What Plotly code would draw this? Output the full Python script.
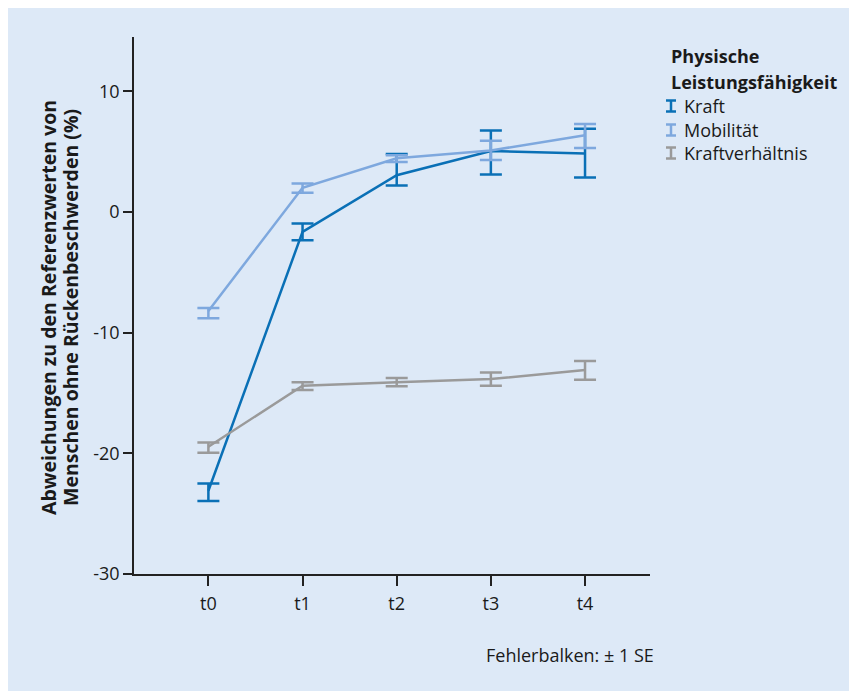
import plotly.graph_objects as go

# ---- data ----
zeitpunkte = ["t0", "t1", "t2", "t3", "t4"]

kraft_mittel = [-23.1, -1.65, 3.05, 5.05, 4.85]
kraft_oben = [-22.5, -0.95, 4.8, 6.75, 6.9]
kraft_unten = [-23.95, -2.35, 2.2, 3.1, 2.85]

mobil_mittel = [-8.2, 2.0, 4.45, 5.1, 6.35]
mobil_oben = [-7.95, 2.35, 4.7, 5.9, 7.3]
mobil_unten = [-8.8, 1.6, 4.15, 4.3, 5.3]

verh_mittel = [-19.45, -14.4, -14.1, -13.85, -13.1]
verh_oben = [-19.1, -14.1, -13.75, -13.3, -12.35]
verh_unten = [-19.95, -14.75, -14.45, -14.4, -13.9]

y_ticks = [-30, -20, -10, 0, 10]
y_ticktext = ["-30", "-20", "-10", "0", "10"]

serien = [
    ("Kraft", kraft_mittel, kraft_oben, kraft_unten, "#0a70b6"),
    ("Mobilität", mobil_mittel, mobil_oben, mobil_unten, "#7ea8de"),
    ("Kraftverhältnis", verh_mittel, verh_oben, verh_unten, "#9a9a9a"),
]

BG = "#dde9f7"
FONT = "Open Sans"
TXT = "#1a1a1a"
W, H = 857, 691
ML, MR, MT, MB = 126, 215, 29, 125

fig = go.Figure()
xs = list(range(len(zeitpunkte)))
for name, m, o, u, col in serien:
    fig.add_trace(go.Scatter(
        x=xs, y=m, mode="lines", name=name,
        line=dict(color=col, width=2.5),
        error_y=dict(type="data", symmetric=False,
                     array=[a - b for a, b in zip(o, m)],
                     arrayminus=[b - c for b, c in zip(m, u)],
                     color=col, thickness=2.5, width=11),
        showlegend=False, hoverinfo="skip",
    ))

pw = W - ML - MR
ph = H - MT - MB


def px(xp):
    return (xp - ML) / pw


def py(yp):
    return (H - MB - yp) / ph


ann = []
shapes = []

# y-axis title (two rotated lines)
for txt, xx in (("Abweichungen zu den Referenzwerten von", 40),
                ("Menschen ohne Rückenbeschwerden (%)", 62)):
    ann.append(dict(text="<b>" + txt + "</b>", xref="paper", yref="paper",
                    x=px(xx), y=py(300), xanchor="center", yanchor="middle",
                    textangle=-90, showarrow=False,
                    font=dict(family=FONT, size=19.5, color=TXT)))

# legend (manual, with error-bar glyphs)
for txt, yy in (("Physische", 48), ("Leistungsfähigkeit", 74)):
    ann.append(dict(text="<b>" + txt + "</b>", xref="paper", yref="paper",
                    x=px(661), y=py(yy), xanchor="left", yanchor="middle",
                    showarrow=False, font=dict(family=FONT, size=18, color=TXT)))
leg_y = [98, 122, 145]
for (name, m, o, u, col), yy in zip(serien, leg_y):
    cx = 663
    shapes.append(dict(type="line", xref="paper", yref="paper", x0=px(cx), x1=px(cx),
                       y0=py(yy - 5.5), y1=py(yy + 5.5), line=dict(color=col, width=2.5)))
    for dy in (-5.5, 5.5):
        shapes.append(dict(type="line", xref="paper", yref="paper", x0=px(cx - 5), x1=px(cx + 5),
                           y0=py(yy + dy), y1=py(yy + dy), line=dict(color=col, width=2.5)))
    ann.append(dict(text=name, xref="paper", yref="paper", x=px(674), y=py(yy),
                    xanchor="left", yanchor="middle", showarrow=False,
                    font=dict(family=FONT, size=18, color=TXT)))

ann.append(dict(text="Fehlerbalken: ± 1 SE", xref="paper", yref="paper",
                x=px(648), y=py(647), xanchor="right", yanchor="middle", showarrow=False,
                font=dict(family=FONT, size=18, color=TXT)))

fig.update_layout(
    width=W, height=H,
    margin=dict(l=ML, r=MR, t=MT, b=MB),
    paper_bgcolor=BG, plot_bgcolor=BG,
    font=dict(family=FONT, size=18, color=TXT),
    annotations=ann, shapes=shapes,
    xaxis=dict(range=[-0.79, 4.69], tickmode="array", tickvals=xs, ticktext=zeitpunkte,
               showgrid=False, zeroline=False, showline=True, linecolor="#222", linewidth=1.5,
               ticks="outside", ticklen=10, tickcolor="#222", tickwidth=1.5,
               ticklabelstandoff=3,
               tickfont=dict(family=FONT, size=18, color=TXT)),
    yaxis=dict(range=[-30, 14.5], tickmode="array", tickvals=y_ticks, ticktext=y_ticktext,
               showgrid=False, zeroline=False,
               showline=True, linecolor="#222", linewidth=1.5,
               ticks="outside", ticklen=9, tickcolor="#222", tickwidth=1.5,
               tickfont=dict(family=FONT, size=18, color=TXT)),
)

fig.write_html("out.html")
